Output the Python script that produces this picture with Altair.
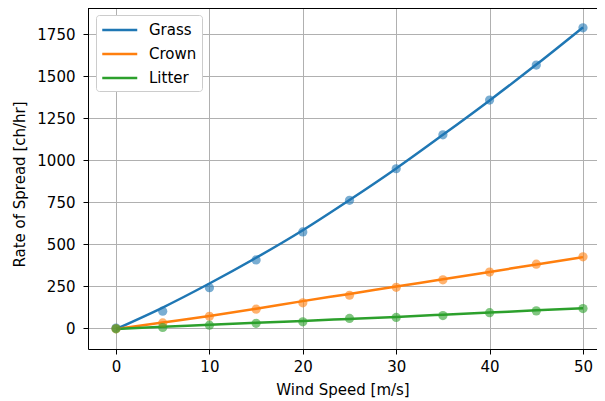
import altair as alt
import pandas as pd

wind = [0, 5, 10, 15, 20, 25, 30, 35, 40, 45, 50]
series_names = ["Grass", "Crown", "Litter"]
series_colors = ["#1f77b4", "#ff7f0e", "#2ca02c"]

# observed points
grass_pts = [0, 100, 240, 405, 572, 760, 948, 1150, 1357, 1565, 1787]
crown_pts = [-5, 30, 70, 112, 150, 195, 242, 287, 333, 380, 424]
litter_pts = [-5, 3, 17, 28, 37, 57, 63, 74, 91, 102, 116]

# fitted curves
grass_fit = [-6, 122, 265, 418, 582, 762, 950, 1150, 1355, 1568, 1790]
crown_fit = [-6, 33, 72, 115, 160, 203, 247, 290, 334, 378, 422]
litter_fit = [-6, 7, 19, 31, 42, 54, 66, 79, 92, 105, 118]

x_ticks = [0, 10, 20, 30, 40, 50]
y_ticks = [0, 250, 500, 750, 1000, 1250, 1500, 1750]

rows_pts = []
rows_fit = []
for name, pts, fit in zip(series_names, [grass_pts, crown_pts, litter_pts],
                          [grass_fit, crown_fit, litter_fit]):
    for i, w in enumerate(wind):
        rows_pts.append({"wind": w, "ros": pts[i], "series": name})
        rows_fit.append({"wind": w, "ros": fit[i], "series": name})
df_pts = pd.DataFrame(rows_pts)
df_fit = pd.DataFrame(rows_fit)

FONT = "DejaVu Sans"
W, H = 509, 341

x_enc = alt.X("wind:Q",
              scale=alt.Scale(domain=[-3, 51.5], nice=False, zero=False),
              axis=alt.Axis(values=x_ticks, title="Wind Speed [m/s]", format="d",
                            titleY=45, titleBaseline="alphabetic", labelPadding=5))
y_enc = alt.Y("ros:Q",
              scale=alt.Scale(domain=[-125, 1905], nice=False, zero=False),
              axis=alt.Axis(values=y_ticks, title="Rate of Spread [ch/hr]", format="d",
                            titleX=-69, titleY=176, titleAngle=270,
                            titleAlign="center", titleBaseline="middle", labelPadding=8))
color_scale = alt.Scale(domain=series_names, range=series_colors)

lines = alt.Chart(df_fit).mark_line(strokeWidth=2.5, interpolate="monotone").encode(
    x=x_enc, y=y_enc,
    color=alt.Color("series:N", scale=color_scale, sort=series_names,
                    legend=alt.Legend(title=None, orient="none", legendX=8, legendY=7,
                                      symbolType="M-1,0H3", symbolSize=306,
                                      symbolStrokeWidth=2.5, labelOffset=28,
                                      rowPadding=6, padding=5,
                                      fillColor="white", strokeColor="#cccccc",
                                      cornerRadius=3, labelFontSize=15, labelFont=FONT,
                                      labelColor="black")),
)
points = alt.Chart(df_pts).mark_circle(size=85, opacity=0.6).encode(
    x=x_enc, y=y_enc,
    color=alt.Color("series:N", scale=color_scale, legend=None),
)
# top spine of the frame
top_spine = alt.Chart(df_pts.head(1)).mark_rule(color="black", strokeWidth=1).encode(
    x=alt.value(0), x2=alt.value(W), y=alt.value(0.5)
)

chart = alt.layer(lines, points, top_spine).properties(
    width=W, height=H,
    autosize=alt.AutoSizeParams(type="none"),
    padding={"left": 80, "top": 0, "right": 0, "bottom": 54},
).configure_view(strokeWidth=0).configure_axis(
    grid=True, gridColor="#b0b0b0", gridWidth=1,
    domainColor="black", domainWidth=1, tickColor="black", tickSize=5,
    labelFont=FONT, labelFontSize=15, labelColor="black",
    titleFont=FONT, titleFontSize=15, titleFontWeight="normal", titleColor="black",
)

chart.save("out.html", embed_options={"renderer": "svg", "actions": False})
